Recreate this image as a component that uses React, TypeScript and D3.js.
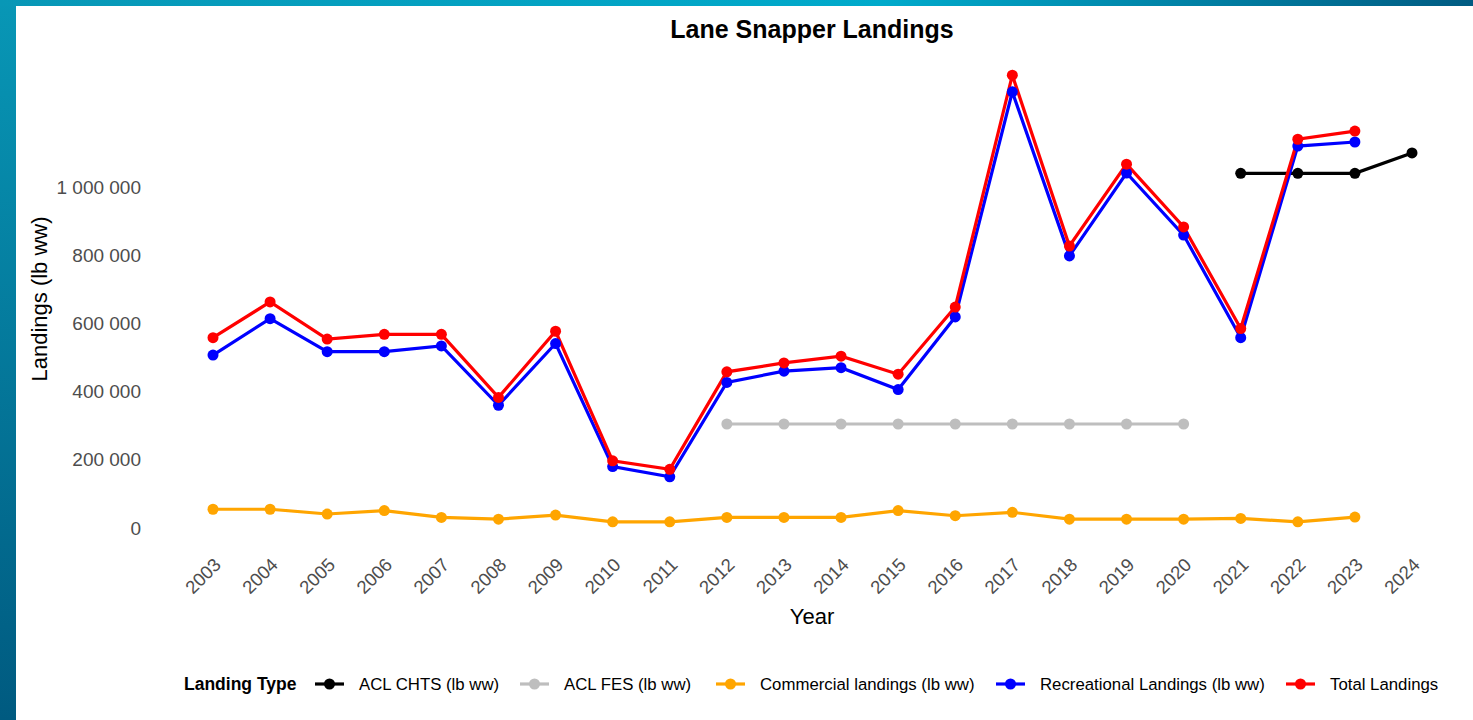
import React, { useRef, useEffect } from 'react';
import * as d3 from 'd3';

// Years on the x axis
const years = [2003, 2004, 2005, 2006, 2007, 2008, 2009, 2010, 2011, 2012, 2013,
  2014, 2015, 2016, 2017, 2018, 2019, 2020, 2021, 2022, 2023, 2024];

// Landings in lb ww (null = no value)
const totalLandings = [558000, 663000, 554000, 568000, 568000, 383000, 577000, 197000, 172000,
  458000, 484000, 504000, 451000, 648000, 1328000, 827000, 1067000, 883000, 585000, 1140000, 1164000, null];
const recreationalLandings = [507000, 614000, 517000, 517000, 534000, 360000, 541000, 180000, 150000,
  427000, 460000, 470000, 406000, 619000, 1279000, 798000, 1041000, 859000, 558000, 1120000, 1132000, null];
const commercialLandings = [55000, 55000, 41000, 51000, 31000, 26000, 38000, 18000, 18000,
  31000, 31000, 31000, 51000, 36000, 46000, 26000, 26000, 26000, 28000, 18000, 32000, null];
const aclFes = [null, null, null, null, null, null, null, null, null,
  305000, 305000, 305000, 305000, 305000, 305000, 305000, 305000, 305000, null, null, null, null];
const aclChts = [null, null, null, null, null, null, null, null, null,
  null, null, null, null, null, null, null, null, null, 1040000, 1040000, 1040000, 1100000];

const yTicks = [0, 200000, 400000, 600000, 800000, 1000000];

const seriesNames = ['ACL CHTS (lb ww)', 'ACL FES (lb ww)', 'Commercial landings (lb ww)',
  'Recreational Landings (lb ww)', 'Total Landings'];
const seriesColors = ['#000000', '#bebebe', '#ffa500', '#0000ff', '#ff0000'];
const seriesValues = [aclChts, aclFes, commercialLandings, recreationalLandings, totalLandings];

const App: React.FC = () => {
  const svgRef = useRef<SVGSVGElement>(null);
  const width = 1473;
  const height = 720;

  useEffect(() => {
    if (!svgRef.current) return;
    const svg = d3.select(svgRef.current);
    svg.selectAll('*').remove();
    svg.attr('width', width).attr('height', height)
      .style('font-family', '"Liberation Sans", Arial, sans-serif');

    // slide background
    const defs = svg.append('defs');
    const gTop = defs.append('linearGradient').attr('id', 'bgTop')
      .attr('x1', '0').attr('x2', '1').attr('y1', '0').attr('y2', '0');
    gTop.append('stop').attr('offset', '0').attr('stop-color', '#0897b6');
    gTop.append('stop').attr('offset', '0.6').attr('stop-color', '#00aacb');
    gTop.append('stop').attr('offset', '1').attr('stop-color', '#005b82');
    const gLeft = defs.append('linearGradient').attr('id', 'bgLeft')
      .attr('x1', '0').attr('x2', '0').attr('y1', '0').attr('y2', '1');
    gLeft.append('stop').attr('offset', '0').attr('stop-color', '#0897b6');
    gLeft.append('stop').attr('offset', '1').attr('stop-color', '#005a80');

    svg.append('rect').attr('x', 0).attr('y', 0).attr('width', 16).attr('height', height).attr('fill', 'url(#bgLeft)');
    svg.append('rect').attr('x', 0).attr('y', 0).attr('width', width).attr('height', 6).attr('fill', 'url(#bgTop)');
    svg.append('rect').attr('x', 16).attr('y', 6).attr('width', width - 16).attr('height', height - 6).attr('fill', '#ffffff');

    // scales
    const x = d3.scaleLinear().domain([2003, 2024]).range([213, 1412]);
    const y = d3.scaleLinear().domain([0, 1000000]).range([528, 187]);

    const fmt = d3.formatLocale({ decimal: '.', thousands: ' ', grouping: [3], currency: ['', ''] }).format(',');

    // title
    svg.append('text')
      .attr('x', 812).attr('y', 38)
      .attr('text-anchor', 'middle')
      .style('font-size', '25px').style('font-weight', 'bold').style('fill', '#000')
      .text('Lane Snapper Landings');

    // y axis
    const yAxis = svg.append('g').attr('transform', 'translate(150,0)')
      .call(d3.axisLeft(y).tickValues(yTicks).tickFormat(d => fmt(d as number)).tickSize(0).tickPadding(9));
    yAxis.select('.domain').remove();
    yAxis.selectAll('text').style('font-size', '19px').style('fill', '#4d4d4d')
      .style('font-family', '"Liberation Sans", Arial, sans-serif');

    // x axis labels
    svg.append('g').selectAll('text')
      .data(years)
      .join('text')
      .attr('transform', d => `translate(${x(d) + 9},566) rotate(-45)`)
      .attr('text-anchor', 'end')
      .style('font-size', '18.5px').style('fill', '#4d4d4d')
      .text(d => String(d));

    // axis titles
    svg.append('text')
      .attr('x', 812).attr('y', 624)
      .attr('text-anchor', 'middle')
      .style('font-size', '22px').style('fill', '#000')
      .text('Year');
    svg.append('text')
      .attr('transform', 'translate(47,299) rotate(-90)')
      .attr('text-anchor', 'middle')
      .style('font-size', '22px').style('fill', '#000')
      .text('Landings (lb ww)');

    // lines
    const line = d3.line<[number, number | null]>()
      .defined(d => d[1] !== null)
      .x(d => x(d[0]))
      .y(d => y(d[1] as number));

    const plot = svg.append('g');
    seriesValues.forEach((vals, i) => {
      const pts = years.map((yr, j) => [yr, vals[j]] as [number, number | null]);
      plot.append('path')
        .datum(pts)
        .attr('d', line)
        .attr('fill', 'none')
        .attr('stroke', seriesColors[i])
        .attr('stroke-width', 3.2);
    });
    seriesValues.forEach((vals, i) => {
      const pts = years.map((yr, j) => [yr, vals[j]] as [number, number | null]).filter(d => d[1] !== null);
      plot.append('g').selectAll('circle')
        .data(pts)
        .join('circle')
        .attr('cx', d => x(d[0]))
        .attr('cy', d => y(d[1] as number))
        .attr('r', 5.5)
        .attr('fill', seriesColors[i]);
    });

    // legend
    const legendY = 684;
    const keyStarts = [315, 520, 716, 996, 1286];
    const legend = svg.append('g');
    legend.append('text')
      .attr('x', 184).attr('y', legendY).attr('dy', '0.35em')
      .style('font-size', '17.5px').style('font-weight', 'bold').style('fill', '#000')
      .text('Landing Type');
    seriesNames.forEach((name, i) => {
      const kx = keyStarts[i];
      legend.append('line')
        .attr('x1', kx).attr('x2', kx + 29)
        .attr('y1', legendY).attr('y2', legendY)
        .attr('stroke', seriesColors[i]).attr('stroke-width', 3.2);
      legend.append('circle')
        .attr('cx', kx + 14.5).attr('cy', legendY).attr('r', 5.5)
        .attr('fill', seriesColors[i]);
      legend.append('text')
        .attr('x', kx + 44).attr('y', legendY).attr('dy', '0.35em')
        .style('font-size', '16.8px').style('fill', '#000')
        .text(name);
    });
  }, []);

  return (
    <svg ref={svgRef} style={{ position: 'absolute', left: 0, top: 0, display: 'block' }} />
  );
};

export default App;
